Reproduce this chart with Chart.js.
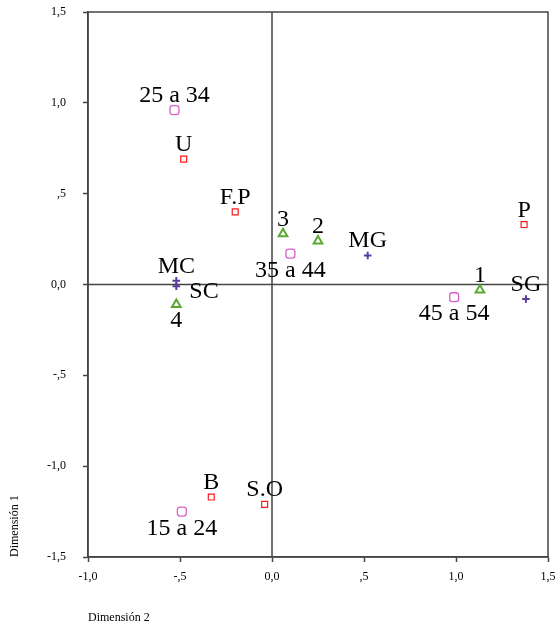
<!DOCTYPE html>
<html>
<head>
<meta charset="utf-8">
<script src="https://cdn.jsdelivr.net/npm/chart.js@4/dist/chart.umd.min.js"></script>
<style>
  html, body { margin: 0; padding: 0; background: #fff; }
  #wrap { width: 556px; height: 627px; }
</style>
</head>
<body>
<div id="wrap"><canvas id="chart"></canvas></div>
<script>
// category points (red squares)
const redLabels = ['U', 'F.P', 'P', 'B', 'S.O'];
const redX = [-0.48, -0.20, 1.37, -0.33, -0.04];
const redY = [0.69, 0.40, 0.33, -1.17, -1.21];

// age groups (pink rounded squares)
const ageLabels = ['15 a 24', '25 a 34', '35 a 44', '45 a 54'];
const ageX = [-0.49, -0.53, 0.10, 0.99];
const ageY = [-1.25, 0.96, 0.17, -0.07];

// numbered groups (green triangles)
const numLabels = ['1', '2', '3', '4'];
const numX = [1.13, 0.25, 0.06, -0.52];
const numY = [-0.03, 0.24, 0.28, -0.11];

// MC / SC / MG / SG (purple crosses)
const plusLabels = ['MC', 'SC', 'MG', 'SG'];
const plusX = [-0.52, -0.52, 0.52, 1.38];
const plusY = [0.02, -0.01, 0.16, -0.08];

// axis ticks
const xTicks = [-1.0, -0.5, 0.0, 0.5, 1.0, 1.5];
const yTicks = [-1.5, -1.0, -0.5, 0.0, 0.5, 1.0, 1.5];

// where a label sits relative to its marker (default: above)
const labelSide = { 'SC': 'right', '4': 'below', '35 a 44': 'below', '45 a 54': 'below', '15 a 24': 'below' };

function to_points(xs, ys, labels) {
    return xs.map((x, i) => ({ x: x, y: ys[i], label: labels[i] }));
}

function fmt_tick(v) {
    if (Math.abs(v) < 1e-9) return '0,0';
    let s = Math.abs(v).toFixed(1).replace('.', ',');
    if (s.startsWith('0,')) s = s.slice(1);
    return (v < 0 ? '-' : '') + s;
}

const lineColor = '#444';

const framePlugin = {
    id: 'frame',
    beforeDatasetsDraw(chart) {
        const { ctx, chartArea: a, scales } = chart;
        const x0 = scales.x.getPixelForValue(0);
        const y0 = scales.y.getPixelForValue(0);
        ctx.save();
        ctx.strokeStyle = lineColor;
        ctx.lineWidth = 1.5;
        ctx.strokeRect(a.left, a.top, a.right - a.left, a.bottom - a.top);
        ctx.beginPath();
        ctx.moveTo(x0, a.top); ctx.lineTo(x0, a.bottom);
        ctx.moveTo(a.left, y0); ctx.lineTo(a.right, y0);
        ctx.stroke();
        ctx.restore();
    }
};

const labelPlugin = {
    id: 'pointLabels',
    afterDatasetsDraw(chart) {
        const ctx = chart.ctx;
        ctx.save();
        ctx.font = '24px "Liberation Serif", "Times New Roman", serif';
        ctx.fillStyle = '#000';
        ctx.textBaseline = 'alphabetic';
        chart.data.datasets.forEach((ds, di) => {
            const meta = chart.getDatasetMeta(di);
            meta.data.forEach((pt, i) => {
                const txt = ds.data[i].label;
                const side = labelSide[txt] || 'above';
                if (side === 'right') {
                    ctx.textAlign = 'left';
                    ctx.fillText(txt, pt.x + 13, pt.y + 12);
                } else if (side === 'below') {
                    ctx.textAlign = 'center';
                    ctx.fillText(txt, pt.x, pt.y + 23);
                } else {
                    ctx.textAlign = 'center';
                    ctx.fillText(txt, pt.x, pt.y - 8);
                }
            });
        });
        ctx.restore();
    }
};

const tickFont = { family: '"Liberation Serif", "Times New Roman", serif', size: 12 };

new Chart(document.getElementById('chart'), {
    type: 'scatter',
    data: {
        datasets: [
            {
                data: to_points(redX, redY, redLabels),
                pointStyle: 'rect', pointRadius: 4.2, pointHoverRadius: 4.2,
                borderColor: '#ff1a1a', backgroundColor: 'transparent', borderWidth: 1.2
            },
            {
                data: to_points(ageX, ageY, ageLabels),
                pointStyle: 'rectRounded', pointRadius: 5.2, pointHoverRadius: 5.2,
                borderColor: '#d860c8', backgroundColor: 'transparent', borderWidth: 1.3
            },
            {
                data: to_points(numX, numY, numLabels),
                pointStyle: 'triangle', pointRadius: 5, pointHoverRadius: 5,
                borderColor: '#58a832', backgroundColor: 'transparent', borderWidth: 2
            },
            {
                data: to_points(plusX, plusY, plusLabels),
                pointStyle: 'cross', pointRadius: 3.8, pointHoverRadius: 3.8,
                borderColor: '#5a3ca0', backgroundColor: 'transparent', borderWidth: 2
            }
        ]
    },
    options: {
        responsive: true,
        maintainAspectRatio: false,
        animation: false,
        events: [],
        layout: { padding: { top: 0, right: 0, left: 0, bottom: 0 } },
        plugins: { legend: { display: false }, tooltip: { enabled: false } },
        scales: {
            x: {
                type: 'linear', min: -1, max: 1.5,
                afterBuildTicks: s => { s.ticks = xTicks.map(v => ({ value: v })); },
                afterFit: s => { s.height = 70; s.paddingLeft = 0; s.paddingRight = 8; },
                grid: { drawOnChartArea: false, drawTicks: true, tickLength: 5, tickColor: lineColor, tickWidth: 1.5 },
                border: { display: true, color: lineColor, width: 1.5 },
                ticks: { color: '#000', font: tickFont, padding: 8, maxRotation: 0, callback: v => fmt_tick(v) },
                title: { display: true, text: 'Dimensión 2', align: 'start', color: '#000', font: tickFont, padding: { top: 0, bottom: 2 } }
            },
            y: {
                type: 'linear', min: -1.5, max: 1.5,
                afterBuildTicks: s => { s.ticks = yTicks.map(v => ({ value: v })); },
                afterFit: s => { s.width = 88; s.paddingTop = 12; s.paddingBottom = 0; },
                grid: { drawOnChartArea: false, drawTicks: true, tickLength: 5, tickColor: lineColor, tickWidth: 1.5 },
                border: { display: true, color: lineColor, width: 1.5 },
                ticks: { color: '#000', font: tickFont, padding: 17, callback: v => fmt_tick(v) },
                title: { display: true, text: 'Dimensión 1', align: 'start', color: '#000', font: tickFont, padding: { top: 8, bottom: 0 } }
            }
        }
    },
    plugins: [framePlugin, labelPlugin]
});
</script>
</body>
</html>
